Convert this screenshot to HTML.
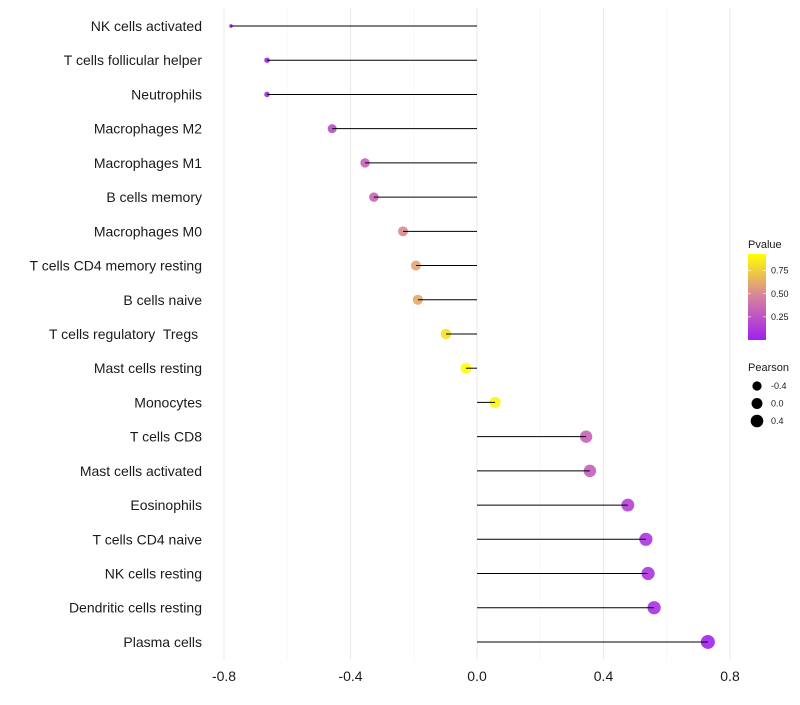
<!DOCTYPE html>
<html><head><meta charset="utf-8"><style>
body{margin:0;background:#fff;font-family:"Liberation Sans",sans-serif}
</style></head><body>
<svg id="c" width="800" height="700"></svg>
<script>
const categories=["NK cells activated","T cells follicular helper","Neutrophils","Macrophages M2","Macrophages M1","B cells memory","Macrophages M0","T cells CD4 memory resting","B cells naive","T cells regulatory  Tregs ","Mast cells resting","Monocytes","T cells CD8","Mast cells activated","Eosinophils","T cells CD4 naive","NK cells resting","Dendritic cells resting","Plasma cells"];
const pearson=[-0.778,-0.664,-0.664,-0.458,-0.354,-0.326,-0.234,-0.193,-0.187,-0.098,-0.035,0.057,0.345,0.357,0.477,0.534,0.541,0.560,0.730];
const pvalue=[0.01,0.03,0.03,0.22,0.32,0.34,0.5,0.6,0.62,0.82,0.95,0.9,0.32,0.3,0.17,0.1,0.1,0.08,0.02];
const xTicks=[-0.8,-0.4,0.0,0.4,0.8];
const xMinor=[-0.6,-0.2,0.2,0.6];
const legendP=[0.25,0.50,0.75];
const legendSize=[-0.4,0.0,0.4];
const NS="http://www.w3.org/2000/svg";
const svg=document.getElementById('c');
function mk(t,a,p){const e=document.createElementNS(NS,t);for(const k in a)e.setAttribute(k,a[k]);(p||svg).appendChild(e);return e;}
const X=v=>477+v*316.25;
const Y=i=>26+i*34.22;
const R=v=>v>-0.458?4.5+(v+0.458)*2.1:Math.max(1.5,1.8+(v+0.78)/0.322*2.7);
function lerp(a,b,t){return a.map((x,i)=>Math.round(x+(b[i]-x)*t));}
function col(p){const t=Math.max(0,Math.min(1,p/0.93));const c0=[160,32,240],c1=[214,128,160],c2=[255,255,0];
const c=t<0.5?lerp(c0,c1,t*2):lerp(c1,c2,(t-0.5)*2);return `rgb(${c})`;}
xMinor.forEach(v=>{const l=mk('line',{x1:X(v),x2:X(v),y1:8,y2:660,stroke:'#f4f4f4','stroke-width':0.6});
});
xTicks.forEach(v=>{const l=mk('line',{x1:X(v),x2:X(v),y1:8,y2:660,stroke:'#ebebeb','stroke-width':1.1});

const t=mk('text',{x:X(v),y:681,'text-anchor':'middle','font-size':14,fill:'#1a1a1a'});t.textContent=v.toFixed(1);
});
categories.forEach((c,i)=>{const t=mk('text',{x:202,y:Y(i)+5,'text-anchor':'end','font-size':14,fill:'#1a1a1a'});t.textContent=c;
t.setAttribute('xml:space','preserve');t.style.whiteSpace='pre';

const d=mk('circle',{cx:X(pearson[i]),cy:Y(i),r:R(pearson[i]),fill:col(pvalue[i]),'fill-opacity':0.9});

const l=mk('line',{x1:X(0),x2:X(pearson[i]),y1:Y(i),y2:Y(i),stroke:'#000','stroke-width':1});
});
let t=mk('text',{x:748,y:248,'font-size':11,fill:'#1a1a1a'});t.textContent='Pvalue';

const defs=mk('defs',{});const g=mk('linearGradient',{id:'gr',x1:0,y1:1,x2:0,y2:0},defs);
[0,0.25,0.5,0.75,1].forEach(o=>mk('stop',{offset:o,'stop-color':col(o*0.93)},g));
const bar=mk('rect',{x:748,y:254,width:18,height:86,fill:'url(#gr)'});

const PY=p=>340-p/0.93*86;
legendP.forEach(p=>{mk('line',{x1:748,x2:751,y1:PY(p),y2:PY(p),stroke:'#fff','stroke-width':0.6});mk('line',{x1:763,x2:766,y1:PY(p),y2:PY(p),stroke:'#fff','stroke-width':0.6});
const l=mk('text',{x:771,y:PY(p)+3,'font-size':9,fill:'#1a1a1a'});l.textContent=p.toFixed(2);
});
t=mk('text',{x:748,y:371,'font-size':11,fill:'#1a1a1a'});t.textContent='Pearson';

legendSize.forEach((v,i)=>{const y=386+i*17.5;const d=mk('circle',{cx:757,cy:y,r:R(v),fill:'#000'});

const l=mk('text',{x:771,y:y+3,'font-size':9,fill:'#1a1a1a'});l.textContent=v.toFixed(1);
});
</script>
</body></html>
